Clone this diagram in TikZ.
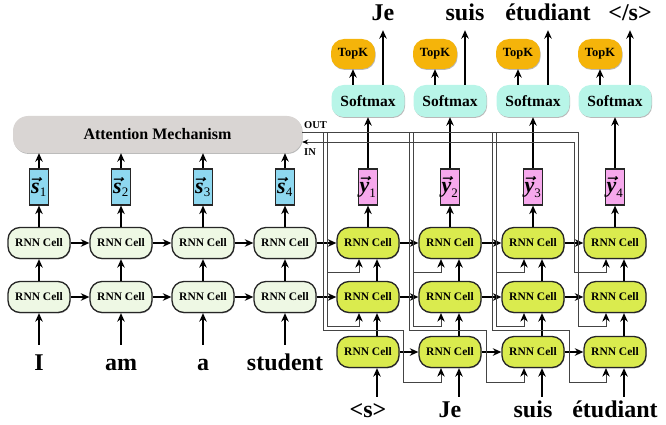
\documentclass[tikz,border=0pt]{standalone}
\usepackage{fontspec}
\setmainfont{Liberation Serif}
\usetikzlibrary{arrows.meta,shadows}
\definecolor{encfill}{HTML}{EEF8E4}
\definecolor{decfill}{HTML}{DAEB4E}
\definecolor{sfill}{HTML}{8ED8F0}
\definecolor{yfill}{HTML}{F6A8EC}
\definecolor{softfill}{HTML}{B8F5E8}
\definecolor{topkfill}{HTML}{F5B40A}
\definecolor{attfill}{HTML}{D9D5D3}
\definecolor{wirecol}{HTML}{444444}
\newcommand\vecsym[2]{$\vec{\mbox{\bfseries\itshape #1}}_{\mbox{\fontsize{13}{13}\selectfont #2}}$}
\begin{document}
\begin{tikzpicture}[x=1pt,y=-1pt,
  every node/.style={inner sep=0pt},
  shad/.style={drop shadow={shadow xshift=0.6pt,shadow yshift=-0.9pt,opacity=0.28,fill=black}},
  cellbase/.style={draw=black!85,line width=1.3pt,rounded corners=12pt,minimum width=62pt,minimum height=31pt,font=\fontsize{11.5}{12}\selectfont\bfseries,shad},
  encell/.style={cellbase,fill=encfill},
  deccell/.style={cellbase,fill=decfill},
  vecbox/.style={draw=black!85,line width=1.2pt,minimum width=19pt,minimum height=36pt,shad,font=\fontsize{22}{22}\selectfont\boldmath},
  softbox/.style={fill=softfill,rounded corners=12pt,minimum width=73pt,minimum height=32pt,font=\fontsize{15.5}{16}\selectfont\bfseries,shad},
  topkbox/.style={fill=topkfill,rounded corners=13pt,minimum width=44pt,minimum height=30pt,font=\fontsize{12.5}{13}\selectfont\bfseries,shad},
  attbox/.style={fill=attfill,rounded corners=15pt,minimum width=289pt,minimum height=37pt,font=\fontsize{16}{16}\selectfont\bfseries,shad},
  arr/.style={line width=1.3pt,-{Stealth[length=8.5pt,width=7.5pt]}},
  wire/.style={draw=wirecol,line width=0.75pt},
  wirearr/.style={wire,-{Stealth[length=8.5pt,width=7.5pt,color=black]}},
  inarr/.style={wire,-{Stealth[length=6pt,width=5pt,color=black]}},
  bigword/.style={font=\fontsize{24}{24}\selectfont\bfseries,text height=16pt,text depth=0pt,anchor=base},
  lab/.style={font=\fontsize{10.5}{11}\selectfont\bfseries},
]
\useasboundingbox (0,0) rectangle (666,425);

% ---------------- encoder ----------------
\node[attbox] (att) at (157.5,134.5) {Attention Mechanism};
\foreach \i/\x/\w in {1/39/I,2/121/am,3/203/a,4/285/student}{
  \node[encell] (et\i) at (\x,243) {RNN Cell};
  \node[encell] (eb\i) at (\x,297) {RNN Cell};
  \node[vecbox,fill=sfill] (s\i) at (\x,187) {\vecsym{s}{\i}};
  \node[bigword] (w\i) at (\x,370) {\w};
}
\foreach \i in {1,...,4}{
  \draw[arr] ([yshift=9pt]w\i.north) -- (eb\i.south);
  \draw[arr] (eb\i.north) -- (et\i.south);
  \draw[arr] (et\i.north) -- (s\i.south);
  \draw[arr] (s\i.north) -- (s\i.north |- att.south);
}
\foreach \i/\j in {1/2,2/3,3/4}{
  \draw[arr] (et\i.east) -- (et\j.west);
  \draw[arr] (eb\i.east) -- (eb\j.west);
}

% ---------------- decoder ----------------
\foreach \i/\x in {1/368,2/450,3/533,4/615}{
  \node[deccell] (dt\i) at (\x,243) {RNN Cell};
  \node[deccell] (dm\i) at (\x,297) {RNN Cell};
  \node[deccell] (db\i) at (\x,352) {RNN Cell};
  \node[vecbox,fill=yfill] (y\i) at (\x,187) {\vecsym{y}{\i}};
  \node[softbox] (sm\i) at (\x,101) {Softmax};
  \node[topkbox] (tk\i) at (\x-15,54) {TopK};
}
\node[bigword] (di1) at (368,417) {<s>};
\node[bigword] (di2) at (450,417) {Je};
\node[bigword] (di3) at (533,417) {suis};
\node[bigword] (di4) at (615,417) {étudiant};
\node[bigword] (o1) at (383,21) {Je};
\node[bigword] (o2) at (465,21) {suis};
\node[bigword] (o3) at (548,21) {étudiant};
\node[bigword] (o4) at (630,21) {</s>};

\foreach \i in {1,...,4}{
  \draw[arr] ([xshift=9pt,yshift=4pt]di\i.north) -- ([xshift=9pt]db\i.south);
  \draw[arr] ([xshift=9pt]db\i.north) -- ([xshift=9pt]dm\i.south);
  \draw[arr] ([xshift=9pt]dm\i.north) -- ([xshift=9pt]dt\i.south);
  \draw[arr] (dt\i.north) -- (y\i.south);
  \draw[arr] (y\i.north) -- (sm\i.south);
  \draw[arr] (sm\i.north -| tk\i.south) -- (tk\i.south);
  \draw[arr] ([xshift=15pt]sm\i.north) -- ([yshift=-9pt]o\i.south);
}
\foreach \i/\j in {1/2,2/3,3/4}{
  \draw[arr] (dt\i.east) -- (dt\j.west);
  \draw[arr] (dm\i.east) -- (dm\j.west);
  \draw[arr] (db\i.east) -- (db\j.west);
}
\draw[arr] (et4.east) -- (dt1.west);
\draw[arr] (eb4.east) -- (dm1.west);

% ---------------- attention wiring ----------------
\coordinate (outE) at (578,132);
\coordinate (inE) at (574,142);
\draw[wire] (att.east |- outE) -- (outE);
\draw[inarr] (inE) -- (att.east |- inE);
\node[lab] (outl) at (315.5,125) {OUT};
\node[lab] (inl) at (310,152) {IN};

\draw[wirearr] (outE) -- (578,326) -| ([xshift=-9pt]dm4.south);
\draw[wirearr] (inE) -- (574,272) -| ([xshift=-9pt]dt4.south);
\foreach \i/\n/\xl/\xr/\xt in {1/2/323/327/403,2/3/409/413/486,3/4/492/496/569}{
  \draw[wirearr] (\xl,132) -- (\xl,330) -- (\xt,330) -- (\xt,382) -| ([xshift=-9pt]db\n.south);
  \draw[wirearr] (\xr,132) -- (\xr,326) -| ([xshift=-9pt]dm\i.south);
  \draw[wirearr] (\xr,272) -| ([xshift=-9pt]dt\i.south);
}
\end{tikzpicture}
\end{document}
